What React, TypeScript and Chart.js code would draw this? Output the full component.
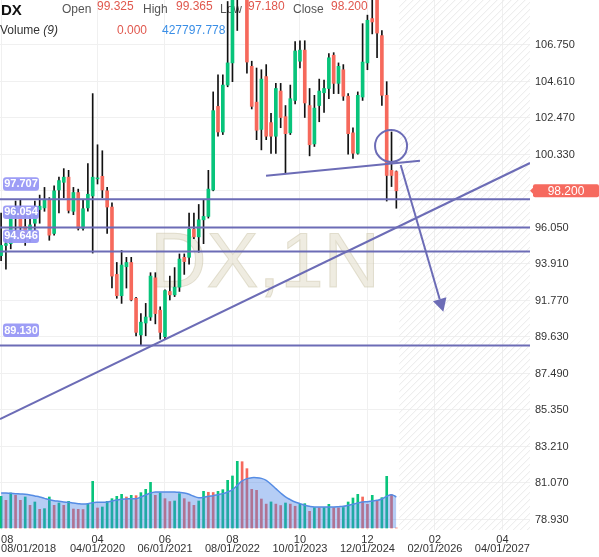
import React, { useEffect, useRef } from 'react';
import { Chart, registerables } from 'chart.js';

Chart.register(...registerables);

const FONT = "'Liberation Sans', Arial, Helvetica, sans-serif";
const SYMBOL = 'DX';
const INTERVAL = '1N';

// Monthly candles, index 0 = Aug 2018 ... index 82 = Jun 2025
const opens = [94.4, 95.0, 95.1, 96.9, 97.1, 96.1, 95.6, 96.3, 97.1, 97.2,
  97.65, 95.7, 98.25, 98.7, 99.0, 97.0, 98.1, 96.0, 97.2, 97.9,
  98.9, 99.05, 98.2, 97.25, 93.3, 92.05, 93.75, 94.0, 91.9, 89.75,
  90.45, 90.8, 93.1, 91.2, 89.65, 92.3, 92.1, 92.55, 94.3, 94.3,
  95.95, 95.5, 96.5, 96.7, 98.25, 103.15, 101.65, 104.4, 105.7, 109.6,
  112.1, 111.5, 105.5, 103.4, 101.8, 104.9, 102.2, 101.4, 104.05, 102.55,
  101.6, 103.5, 105.8, 106.45, 103.2, 100.95, 103.2, 103.95, 104.2, 106.15,
  104.5, 105.3, 103.75, 101.6, 100.4, 103.7, 105.7, 108.3, 109.6, 107.3,
  103.8, 99.4, 99.325];
const highs = [96.9, 95.7, 97.2, 97.6, 97.7, 96.9, 96.9, 97.6, 97.95, 98.4,
  97.8, 98.5, 99.0, 99.5, 99.4, 98.4, 98.3, 97.7, 99.8, 103.9,
  100.9, 100.55, 98.4, 97.5, 94.0, 94.7, 94.3, 94.3, 91.95, 91.0,
  91.6, 93.4, 93.4, 91.4, 92.4, 93.2, 93.7, 94.5, 94.5, 96.9,
  96.9, 97.4, 97.7, 99.4, 104.0, 105.0, 105.0, 109.3, 109.9, 114.8,
  113.9, 111.9, 105.8, 105.4, 105.3, 105.6, 102.75, 104.5, 104.5, 103.2,
  104.4, 106.95, 107.0, 107.0, 104.2, 103.8, 104.75, 104.7, 106.25, 106.3,
  105.7, 105.6, 103.9, 101.9, 104.0, 108.0, 108.5, 110.0, 110.0, 107.6,
  104.6, 101.65, 99.365];
const lows = [94.1, 93.6, 94.8, 95.7, 95.9, 95.0, 95.2, 95.7, 96.3, 97.0,
  95.3, 95.6, 96.9, 97.8, 96.9, 96.8, 95.9, 95.9, 97.0, 94.55,
  98.6, 97.8, 95.7, 92.5, 91.9, 91.6, 92.5, 91.75, 89.7, 89.15,
  89.7, 90.6, 90.4, 89.5, 89.5, 91.8, 92.0, 92.3, 93.3, 93.9,
  95.4, 94.6, 95.1, 96.6, 98.2, 101.4, 101.5, 104.3, 104.6, 107.6,
  109.5, 105.1, 103.0, 101.2, 100.6, 101.2, 100.4, 100.4, 101.9, 99.2,
  101.5, 103.3, 105.4, 102.5, 100.25, 100.8, 102.25, 102.8, 103.6, 103.9,
  103.9, 103.5, 100.35, 100.1, 100.35, 103.5, 105.3, 107.4, 106.0, 103.2,
  97.6, 98.45, 97.18];
const closes = [95.0, 95.1, 96.9, 97.2, 96.1, 95.6, 96.2, 97.1, 97.3, 97.65,
  95.6, 98.2, 98.8, 99.0, 97.05, 98.1, 96.0, 97.15, 98.0, 99.0,
  98.95, 98.25, 97.25, 93.2, 92.05, 93.85, 94.0, 91.8, 89.9, 90.5,
  90.8, 93.2, 91.0, 89.9, 92.35, 92.1, 92.55, 94.2, 94.05, 95.95,
  95.5, 96.5, 96.7, 98.3, 102.9, 101.65, 104.4, 105.7, 109.6, 112.1,
  111.5, 105.75, 103.15, 101.75, 104.75, 101.4, 101.4, 104.2, 102.5, 101.55,
  103.6, 106.4, 106.45, 103.35, 100.9, 103.05, 104.05, 104.2, 106.0, 104.5,
  105.5, 103.75, 101.55, 100.4, 103.8, 105.75, 108.2, 108.1, 107.45, 103.8,
  99.1, 99.1, 98.2];
const volumes = [437000, 382000, 483000, 451000, 382000, 428000, 313000, 359000, 258000, 267000,
  428000, 313000, 345000, 313000, 368000, 262000, 258000, 255000, 327000, 644000,
  276000, 290000, 368000, 405000, 437000, 465000, 428000, 451000, 447000, 488000,
  534000, 630000, 451000, 483000, 405000, 365000, 373000, 474000, 405000, 359000,
  313000, 373000, 506000, 493000, 490000, 506000, 529000, 658000, 718000, 920000,
  915000, 819000, 534000, 520000, 400000, 330000, 360000, 330000, 310000, 345000,
  330000, 300000, 330000, 336000, 230000, 281000, 279000, 283000, 327000, 281000,
  278000, 283000, 359000, 414000, 465000, 428000, 327000, 451000, 382000, 419000,
  713000, 460000, 0];
const volumeMA = [483000, 483000, 478000, 474000, 469000, 465000, 456000, 442000, 428000, 409000,
  391000, 377000, 368000, 359000, 354000, 345000, 336000, 331000, 336000, 350000,
  354000, 354000, 359000, 373000, 386000, 396000, 400000, 405000, 405000, 428000,
  456000, 483000, 497000, 497000, 497000, 497000, 497000, 492000, 483000, 465000,
  437000, 419000, 423000, 437000, 446000, 460000, 474000, 497000, 529000, 589000,
  649000, 681000, 695000, 695000, 685000, 658000, 603000, 543000, 483000, 428000,
  391000, 359000, 336000, 313000, 299000, 290000, 290000, 290000, 290000, 290000,
  294000, 299000, 313000, 327000, 345000, 359000, 363000, 373000, 382000, 400000,
  437000, 460000, 427797.778];

const yTicks = [78.93, 81.07, 83.21, 85.35, 87.49, 89.63, 91.77, 93.91, 96.05, 98.19, 100.33, 102.47, 104.61, 106.75];
const xTickMonths = [0, 20, 34, 48, 62, 76, 90, 104];
const xTickTop = ['08', '04', '06', '08', '10', '12', '02', '04'];
const xTickBottom = ['08/01/2018', '04/01/2020', '06/01/2021', '08/01/2022', '10/01/2023', '12/01/2024', '02/01/2026', '04/01/2027'];

const levels = [97.707, 96.054, 94.646, 89.13];
const trendLine = [{ x: -0.23, y: 84.82 }, { x: 109.73, y: 99.83 }];
const neckLine = [{ x: 54.96, y: 99.09 }, { x: 86.9, y: 99.97 }];
const arrowFrom = { x: 82.9, y: 99.71 };
const arrowTo = { x: 91.75, y: 91.11 };
const circleCenter = { x: 80.9, y: 100.83 };

const X_MIN = -0.23;
const X_MAX = 109.73;
const Y_MIN = 78.314;
const Y_MAX = 109.388;

const GREEN = '#08c47b';
const RED = '#f6695c';
const LINE = '#6c6cb6';

const zeroPad = (s: any) => {
  s.paddingTop = 0;
  s.paddingBottom = 0;
  s.paddingLeft = 0;
  s.paddingRight = 0;
};

export default function App() {
  const ref = useRef<HTMLCanvasElement>(null);

  useEffect(() => {
    const canvas = ref.current;
    if (!canvas) return;
    const last = closes.length - 1;
    const futureStart = last + 0.6;

    const bgPlugin = {
      id: 'bgPlugin',
      beforeDatasetsDraw(chart: any) {
        const { ctx, chartArea } = chart;
        const xs = chart.scales.x;
        ctx.save();
        const fx = xs.getPixelForValue(futureStart);
        const h = chartArea.bottom - chartArea.top;
        ctx.beginPath();
        ctx.rect(fx, chartArea.top, chartArea.right - fx, h);
        ctx.clip();
        ctx.strokeStyle = '#e9e9e9';
        ctx.lineWidth = 1;
        ctx.beginPath();
        for (let s = fx - h; s < chartArea.right; s += 7) {
          ctx.moveTo(s, chartArea.bottom);
          ctx.lineTo(s + h, chartArea.top);
        }
        ctx.stroke();
        ctx.restore();

        ctx.save();
        ctx.font = `78px ${FONT}`;
        ctx.textAlign = 'center';
        ctx.textBaseline = 'alphabetic';
        const wx = (chartArea.left + chartArea.right) / 2;
        ctx.fillStyle = 'rgba(228,223,205,0.6)';
        ctx.fillText(`${SYMBOL},${INTERVAL}`, wx, 287);
        ctx.strokeStyle = 'rgba(200,192,165,0.45)';
        ctx.lineWidth = 1;
        ctx.strokeText(`${SYMBOL},${INTERVAL}`, wx, 287);
        ctx.restore();

        ctx.save();
        ctx.textAlign = 'left';
        ctx.textBaseline = 'alphabetic';
        ctx.fillStyle = '#111';
        ctx.font = `bold 15px ${FONT}`;
        ctx.fillText(SYMBOL, 1, 15);
        ctx.font = `12px ${FONT}`;
        const labels: [string, number, number, number][] = [
          ['Open', 62, 97, opens[last]],
          ['High', 143, 176, highs[last]],
          ['Low', 220, 248, lows[last]],
          ['Close', 293, 331, closes[last]],
        ];
        labels.forEach(([name, lx, vx, val]) => {
          ctx.fillStyle = '#555';
          ctx.fillText(name, lx, 13);
          ctx.fillStyle = '#e0584e';
          ctx.fillText(val.toFixed(3), vx, 10);
        });
        ctx.fillStyle = '#333';
        ctx.fillText('Volume ', 0, 34);
        const vw = ctx.measureText('Volume ').width;
        ctx.font = `italic 12px ${FONT}`;
        ctx.fillText('(9)', vw, 34);
        ctx.font = `12px ${FONT}`;
        ctx.fillStyle = '#e0584e';
        ctx.fillText(volumes[last].toFixed(3), 117, 33.5);
        ctx.fillStyle = '#3a8ee6';
        ctx.fillText(volumeMA[last].toFixed(3), 162, 33.5);
        ctx.restore();
      },
    };

    const fgPlugin = {
      id: 'fgPlugin',
      afterDatasetsDraw(chart: any) {
        const { ctx } = chart;
        const xs = chart.scales.x;
        const ys = chart.scales.y;
        ctx.save();
        ctx.strokeStyle = LINE;
        ctx.fillStyle = LINE;
        ctx.lineWidth = 2;
        ctx.beginPath();
        ctx.arc(xs.getPixelForValue(circleCenter.x), ys.getPixelForValue(circleCenter.y), 16, 0, Math.PI * 2);
        ctx.stroke();
        const x1 = xs.getPixelForValue(arrowFrom.x), y1 = ys.getPixelForValue(arrowFrom.y);
        const x2 = xs.getPixelForValue(arrowTo.x), y2 = ys.getPixelForValue(arrowTo.y);
        const len = Math.hypot(x2 - x1, y2 - y1);
        const dx = (x2 - x1) / len, dy = (y2 - y1) / len;
        const hl = 13, hw = 7;
        const bx = x2 - dx * hl, by = y2 - dy * hl;
        ctx.beginPath();
        ctx.moveTo(x1, y1);
        ctx.lineTo(bx, by);
        ctx.stroke();
        ctx.beginPath();
        ctx.moveTo(x2, y2);
        ctx.lineTo(bx - dy * hw, by + dx * hw);
        ctx.lineTo(bx + dy * hw, by - dx * hw);
        ctx.closePath();
        ctx.fill();

        ctx.font = `bold 11px ${FONT}`;
        ctx.textAlign = 'center';
        ctx.textBaseline = 'middle';
        levels.forEach((lv) => {
          const py = ys.getPixelForValue(lv);
          ctx.fillStyle = 'rgba(152,152,246,0.95)';
          ctx.beginPath();
          (ctx as any).roundRect(3, py - 22, 36, 13.5, 3);
          ctx.fill();
          ctx.fillStyle = '#fff';
          ctx.fillText(lv.toFixed(3), 21, py - 15);
        });

        const py = ys.getPixelForValue(closes[last]);
        const ax = chart.chartArea.right;
        ctx.fillStyle = '#f66a5f';
        ctx.beginPath();
        ctx.moveTo(ax, py);
        ctx.lineTo(ax + 4, py - 4);
        ctx.lineTo(ax + 4, py + 4);
        ctx.closePath();
        ctx.fill();
        ctx.beginPath();
        (ctx as any).roundRect(ax + 3, py - 6.5, 599 - ax - 3, 13, 2);
        ctx.fill();
        ctx.fillStyle = '#fff';
        ctx.font = `12px ${FONT}`;
        ctx.textAlign = 'center';
        ctx.fillText(closes[last].toFixed(3), ax + 36, py + 0.5);
        ctx.restore();
      },
    };

    const candleColors = closes.map((c, i) => (c >= opens[i] ? GREEN : RED));
    const volColors = volumes.map((v, i) => (i === 0 || v > volumes[i - 1] ? GREEN : RED));

    const lineDs = (data: { x: number; y: number }[], order = 1) => ({
      type: 'line' as const,
      data,
      borderColor: LINE,
      borderWidth: 2,
      pointRadius: 0,
      fill: false,
      tension: 0,
      order,
      yAxisID: 'y',
    });

    const datasets: any[] = [
      lineDs(trendLine),
      lineDs(neckLine),
      ...levels.map((lv) => lineDs([{ x: X_MIN, y: lv }, { x: X_MAX, y: lv }])),
      {
        type: 'bar',
        data: opens.map((o, i) => ({ x: i, y: [o, closes[i]] })),
        backgroundColor: candleColors,
        barThickness: 3,
        minBarLength: 1,
        grouped: false,
        order: 3,
        yAxisID: 'y',
      },
      {
        type: 'bar',
        data: lows.map((l, i) => ({ x: i, y: [l, highs[i]] })),
        backgroundColor: '#111',
        barThickness: 1,
        grouped: false,
        order: 4,
        yAxisID: 'y',
      },
      {
        type: 'line',
        data: volumeMA.map((v, i) => ({ x: i, y: v })),
        borderColor: 'rgb(85,140,228)',
        borderWidth: 1.5,
        backgroundColor: 'rgba(70,130,230,0.4)',
        pointRadius: 0,
        fill: 'origin',
        tension: 0.4,
        order: 5,
        yAxisID: 'yVol',
      },
      {
        type: 'bar',
        data: volumes.map((v, i) => ({ x: i, y: v })),
        backgroundColor: volColors,
        barThickness: 2,
        grouped: false,
        order: 6,
        yAxisID: 'yVol',
      },
    ];

    const chart = new Chart(canvas, {
      type: 'bar',
      data: { datasets },
      options: {
        animation: false,
        responsive: false,
        devicePixelRatio: 1,
        events: [],
        layout: { padding: 0 },
        font: { family: FONT },
        plugins: { legend: { display: false }, tooltip: { enabled: false } },
        scales: {
          x: {
            type: 'linear',
            position: 'bottom',
            min: X_MIN,
            max: X_MAX,
            offset: false,
            grid: {
              offset: false,
              drawTicks: false,
              color: (c: any) => (c.tick && c.tick.value > X_MAX - 1 ? 'rgba(0,0,0,0)' : '#f0f0f0'),
            },
            border: { display: false },
            ticks: {
              autoSkip: false,
              maxRotation: 0,
              minRotation: 0,
              align: 'inner',
              padding: 5,
              color: '#333',
              font: { size: 11, lineHeight: 0.85, family: FONT },
              callback: (value: any) => {
                const k = xTickMonths.indexOf(Number(value));
                return k < 0 ? '' : [xTickTop[k], xTickBottom[k]];
              },
            },
            afterBuildTicks: (s: any) => {
              s.ticks = [...xTickMonths.map((v) => ({ value: v })), { value: X_MAX }];
            },
            afterFit: (s: any) => {
              s.height = 27;
              zeroPad(s);
            },
          },
          y: {
            type: 'linear',
            position: 'right',
            min: Y_MIN,
            max: Y_MAX,
            grid: { color: '#f0f0f0', drawTicks: false },
            border: { display: false },
            ticks: {
              padding: 5,
              color: '#333',
              font: { size: 11, family: FONT },
              callback: (v: any) => Number(v).toFixed(3),
            },
            afterBuildTicks: (s: any) => {
              s.ticks = yTicks.map((v) => ({ value: v }));
            },
            afterFit: (s: any) => {
              s.width = 69;
              zeroPad(s);
            },
          },
          yVol: {
            type: 'linear',
            display: false,
            min: -27600,
            max: 7286400,
          },
        },
      } as any,
      plugins: [bgPlugin, fgPlugin],
    });
    return () => chart.destroy();
  }, []);

  return (
    <div style={{ position: 'fixed', left: 0, top: 0, width: 599, height: 557, background: '#fff' }}>
      <canvas ref={ref} width={599} height={557} style={{ display: 'block', width: 599, height: 557 }} />
    </div>
  );
}
